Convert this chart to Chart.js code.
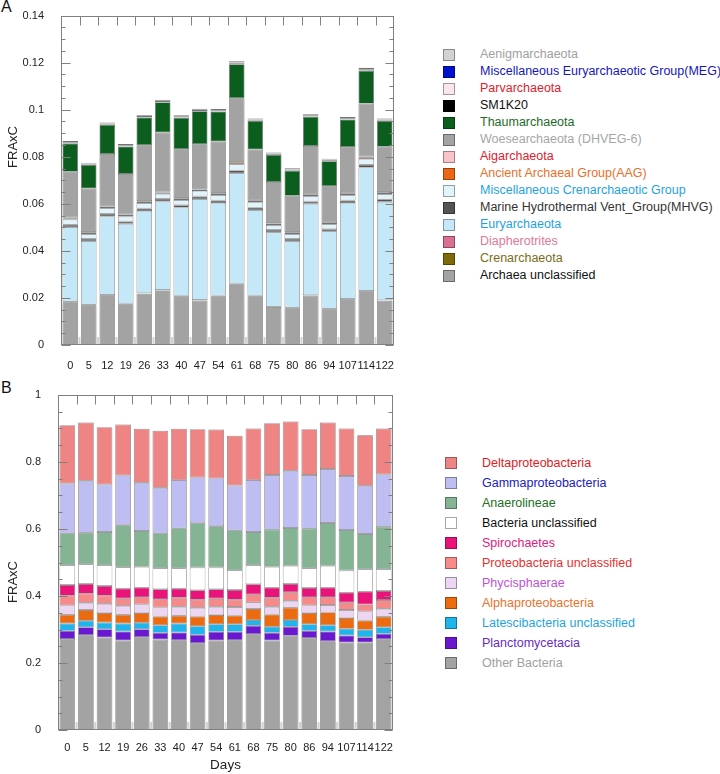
<!DOCTYPE html>
<html>
<head>
<meta charset="utf-8">
<title>FRAxC by day - Archaea and Bacteria</title>
<script src="https://cdn.jsdelivr.net/npm/chart.js@4.4.1/dist/chart.umd.min.js"></script>
<style>
  body { margin: 0; background: #fff; font-family: "Liberation Sans", Arial, sans-serif; }
  #page { position: relative; width: 720px; height: 774px; overflow: hidden; }
  canvas { position: absolute; left: 0; }
  .panel { position: absolute; left: 1px; font-size: 16px; color: #111; }
  .legend { position: absolute; margin: 0; padding: 0; list-style: none; font-size: 12.5px; white-space: nowrap; }
  .legend li { position: relative; padding-left: 37px; }
  .legend .sw { position: absolute; left: 0; width: 10px; height: 10px; border: 1px solid rgba(0,0,0,0.35); }
  #legendA li { height: 17px; line-height: 17px; }
  #legendA .sw { top: 3px; }
  #legendB li { height: 20px; line-height: 20px; }
  #legendB .sw { top: 4px; }
</style>
</head>
<body>
<div id="page">
  <div class="panel" style="top:-2px">A</div>
  <div class="panel" style="top:379px">B</div>
  <canvas id="chartA" width="420" height="372" style="top:0"></canvas>
  <canvas id="chartB" width="420" height="402" style="top:372px"></canvas>
  <ul class="legend" id="legendA" style="left:443px; top:46px"></ul>
  <ul class="legend" id="legendB" style="left:445px; top:453px"></ul>
</div>

<script>
// Sampling days (same for both panels)
const days = ['0', '5', '12', '19', '26', '33', '40', '47', '54', '61', '68', '75', '80', '86', '94', '107', '114', '122'];

// ---- Panel A: Archaea (bottom of stack first) ----
const archaeaUnclassified = [0.0182, 0.0169, 0.0211, 0.0173, 0.0218, 0.0232, 0.0207, 0.0189, 0.0207, 0.0258, 0.0207, 0.0161, 0.0156, 0.0210, 0.0152, 0.0194, 0.0228, 0.0188];
const crenarchaeota = [0.0001, 0.0001, 0.0001, 0.0001, 0.0001, 0.0001, 0.0001, 0.0001, 0.0002, 0.0001, 0.0001, 0.0001, 0.0001, 0.0001, 0.0001, 0.0001, 0.0001, 0.0001];
const diapherotrites = [0.0001, 0.0001, 0.0001, 0.0001, 0.0001, 0.0001, 0.0001, 0.0001, 0.0001, 0.0001, 0.0001, 0.0001, 0.0001, 0.0001, 0.0001, 0.0001, 0.0001, 0.0001];
const euryarchaeota = [0.0317, 0.0271, 0.0333, 0.0340, 0.0350, 0.0376, 0.0375, 0.0429, 0.0394, 0.0470, 0.0365, 0.0316, 0.0284, 0.0388, 0.0329, 0.0408, 0.0524, 0.0419];
const mhvg = [0.0010, 0.0009, 0.0011, 0.0010, 0.0010, 0.0011, 0.0010, 0.0011, 0.0010, 0.0012, 0.0010, 0.0010, 0.0009, 0.0010, 0.0009, 0.0010, 0.0012, 0.0010];
const mcg = [0.0022, 0.0020, 0.0024, 0.0021, 0.0023, 0.0022, 0.0022, 0.0024, 0.0023, 0.0026, 0.0022, 0.0021, 0.0020, 0.0022, 0.0021, 0.0022, 0.0025, 0.0022];
const aag = [0.0006, 0.0006, 0.0005, 0.0006, 0.0006, 0.0005, 0.0006, 0.0006, 0.0006, 0.0007, 0.0006, 0.0006, 0.0006, 0.0006, 0.0006, 0.0006, 0.0007, 0.0006];
const aigarchaeota = [0.0003, 0.0003, 0.0003, 0.0003, 0.0003, 0.0003, 0.0003, 0.0003, 0.0003, 0.0003, 0.0003, 0.0003, 0.0003, 0.0003, 0.0003, 0.0003, 0.0003, 0.0003];
const woesearchaeota = [0.0194, 0.0185, 0.0223, 0.0172, 0.0237, 0.0252, 0.0207, 0.0189, 0.0219, 0.0271, 0.0216, 0.0174, 0.0154, 0.0205, 0.0153, 0.0197, 0.0225, 0.0193];
const thaumarchaeota = [0.0120, 0.0100, 0.0123, 0.0116, 0.0118, 0.0128, 0.0134, 0.0140, 0.0127, 0.0144, 0.0121, 0.0114, 0.0106, 0.0124, 0.0106, 0.0116, 0.0139, 0.0109];
const sm1k20 = [0.0002, 0.0002, 0.0002, 0.0002, 0.0002, 0.0002, 0.0002, 0.0002, 0.0002, 0.0002, 0.0002, 0.0002, 0.0002, 0.0002, 0.0002, 0.0002, 0.0002, 0.0002];
const parvarchaeota = [0.0004, 0.0004, 0.0004, 0.0004, 0.0004, 0.0004, 0.0004, 0.0004, 0.0004, 0.0005, 0.0004, 0.0004, 0.0004, 0.0004, 0.0004, 0.0004, 0.0005, 0.0004];
const meg = [0.0001, 0.0001, 0.0001, 0.0001, 0.0001, 0.0001, 0.0001, 0.0001, 0.0001, 0.0001, 0.0001, 0.0001, 0.0001, 0.0001, 0.0001, 0.0001, 0.0001, 0.0001];
const aenigmarchaeota = [0.0004, 0.0003, 0.0004, 0.0004, 0.0004, 0.0004, 0.0004, 0.0004, 0.0004, 0.0005, 0.0004, 0.0004, 0.0004, 0.0004, 0.0004, 0.0004, 0.0005, 0.0004];
const yTicksA = { max: 0.14, step: 0.02, minor: 0.005 };

// ---- Panel B: Bacteria (bottom of stack first) ----
const otherBacteria = [0.272, 0.283, 0.276, 0.267, 0.277, 0.270, 0.268, 0.259, 0.267, 0.268, 0.286, 0.267, 0.281, 0.275, 0.265, 0.261, 0.261, 0.271];
const planctomycetacia = [0.024, 0.024, 0.025, 0.027, 0.024, 0.020, 0.023, 0.025, 0.026, 0.025, 0.025, 0.023, 0.027, 0.021, 0.029, 0.021, 0.016, 0.016];
const latescibacteria = [0.022, 0.019, 0.020, 0.024, 0.019, 0.023, 0.027, 0.026, 0.023, 0.023, 0.017, 0.018, 0.020, 0.020, 0.019, 0.020, 0.022, 0.020];
const alphaproteobacteria = [0.026, 0.032, 0.028, 0.026, 0.029, 0.026, 0.023, 0.029, 0.027, 0.026, 0.033, 0.037, 0.037, 0.033, 0.038, 0.032, 0.028, 0.031];
const phycisphaerae = [0.028, 0.022, 0.028, 0.027, 0.026, 0.027, 0.027, 0.026, 0.025, 0.025, 0.020, 0.023, 0.021, 0.023, 0.022, 0.024, 0.027, 0.024];
const proteoUnclassified = [0.029, 0.027, 0.024, 0.022, 0.021, 0.024, 0.027, 0.024, 0.025, 0.022, 0.024, 0.027, 0.025, 0.024, 0.023, 0.023, 0.021, 0.026];
const spirochaetes = [0.032, 0.029, 0.029, 0.029, 0.029, 0.030, 0.027, 0.028, 0.027, 0.029, 0.030, 0.030, 0.025, 0.028, 0.029, 0.029, 0.038, 0.027];
const bacteriaUnclassified = [0.059, 0.059, 0.062, 0.064, 0.062, 0.063, 0.061, 0.068, 0.065, 0.059, 0.057, 0.062, 0.054, 0.059, 0.065, 0.066, 0.067, 0.065];
const anaerolineae = [0.095, 0.094, 0.099, 0.125, 0.107, 0.104, 0.119, 0.132, 0.123, 0.119, 0.099, 0.111, 0.113, 0.118, 0.128, 0.121, 0.105, 0.127];
const gammaproteobacteria = [0.149, 0.155, 0.142, 0.149, 0.144, 0.136, 0.144, 0.137, 0.143, 0.134, 0.155, 0.163, 0.171, 0.160, 0.161, 0.161, 0.144, 0.156];
const deltaproteobacteria = [0.174, 0.174, 0.171, 0.152, 0.161, 0.170, 0.153, 0.144, 0.146, 0.148, 0.154, 0.155, 0.147, 0.137, 0.139, 0.142, 0.151, 0.137];
const yTicksB = { max: 1, step: 0.2, minor: 0.05 };

// series list: [label, data, fill colour, legend text colour]
const archaeaSeries = [
    ['Archaea unclassified', archaeaUnclassified, '#a3a3a3', '#111111'],
    ['Crenarchaeota', crenarchaeota, '#7e6a08', '#7d6c16'],
    ['Diapherotrites', diapherotrites, '#d97090', '#de7898'],
    ['Euryarchaeota', euryarchaeota, '#c4e8f8', '#1fa2e0'],
    ['Marine Hydrothermal Vent_Group(MHVG)', mhvg, '#545454', '#333333'],
    ['Miscellaneous Crenarchaeotic Group', mcg, '#e2f4fb', '#1fa2e0'],
    ['Ancient Archaeal Group(AAG)', aag, '#ec6614', '#e8702a'],
    ['Aigarchaeota', aigarchaeota, '#f8c4c8', '#e0202e'],
    ['Woesearchaeota (DHVEG-6)', woesearchaeota, '#a3a3a3', '#a6a6a6'],
    ['Thaumarchaeota', thaumarchaeota, '#0c5e1e', '#1e6b28'],
    ['SM1K20', sm1k20, '#000000', '#111111'],
    ['Parvarchaeota', parvarchaeota, '#fbe6ec', '#e0202e'],
    ['Miscellaneous Euryarchaeotic Group(MEG)', meg, '#0010d0', '#1515c0'],
    ['Aenigmarchaeota', aenigmarchaeota, '#d2d2d2', '#a0a0a0']
];

const bacteriaSeries = [
    ['Other Bacteria', otherBacteria, '#a3a3a3', '#a0a0a0'],
    ['Planctomycetacia', planctomycetacia, '#6a18d0', '#6a2ac0'],
    ['Latescibacteria unclassified', latescibacteria, '#20b4ec', '#22a4e0'],
    ['Alphaproteobacteria', alphaproteobacteria, '#ec6a10', '#e8722e'],
    ['Phycisphaerae', phycisphaerae, '#ecd6f2', '#c052d2'],
    ['Proteobacteria unclassified', proteoUnclassified, '#f68a8a', '#e8302e'],
    ['Spirochaetes', spirochaetes, '#e8147a', '#e0207a'],
    ['Bacteria unclassified', bacteriaUnclassified, '#ffffff', '#111111'],
    ['Anaerolineae', anaerolineae, '#84b494', '#207020'],
    ['Gammaproteobacteria', gammaproteobacteria, '#bebef2', '#2020c0'],
    ['Deltaproteobacteria', deltaproteobacteria, '#ef8484', '#e0201e']
];

const FONT = '"Liberation Sans", Arial, sans-serif';

/**
 * Frame, inward tick marks and the rotated y title
 */
const framePlugin = {
    id: 'frame',
    beforeDatasetsDraw(chart, args, opts) {
        const { ctx, chartArea: a, scales: { x } } = chart;
        ctx.save();
        ctx.strokeStyle = '#d2d2d2';
        ctx.lineWidth = 2;
        for (let i = 1; i < chart.data.labels.length; i++) {
            const px = (x.getPixelForValue(i - 1) + x.getPixelForValue(i)) / 2;
            ctx.beginPath();
            ctx.moveTo(px, a.bottom);
            ctx.lineTo(px, a.bottom - 8);
            ctx.stroke();
        }
        ctx.restore();
    },
    afterDraw(chart, args, opts) {
        const { ctx, chartArea: a, scales: { x, y } } = chart;
        const L = Math.round(a.left) + 0.5, R = Math.round(a.right) - 0.5;
        const T = Math.round(a.top) + 0.5, B = Math.round(a.bottom) - 0.5;
        ctx.save();
        ctx.strokeStyle = '#808080';
        ctx.lineWidth = 1;
        ctx.strokeRect(L, T, R - L, B - T);

        // y ticks on both sides, pointing inward
        const ticks = opts.ticks;
        const n = Math.round(ticks.max / ticks.minor);
        const every = Math.round(ticks.step / ticks.minor);
        for (let k = 0; k <= n; k++) {
            const py = Math.round(y.getPixelForValue(k * ticks.minor)) + 0.5;
            const major = k % every === 0;
            ctx.beginPath();
            ctx.moveTo(L, py);
            ctx.lineTo(L + (major ? 9 : 4), py);
            ctx.moveTo(R, py);
            ctx.lineTo(R - (major ? 8 : 4), py);
            ctx.stroke();
        }

        // top ticks at category boundaries
        for (let i = 1; i < chart.data.labels.length; i++) {
            const px = Math.round((x.getPixelForValue(i - 1) + x.getPixelForValue(i)) / 2) + 0.5;
            ctx.beginPath();
            ctx.moveTo(px, T);
            ctx.lineTo(px, T + 9);
            ctx.stroke();
        }

        // y title
        ctx.translate(opts.titleX, opts.titleY);
        ctx.rotate(-Math.PI / 2);
        ctx.fillStyle = '#222';
        ctx.font = '13px ' + FONT;
        ctx.textAlign = 'center';
        ctx.textBaseline = 'middle';
        ctx.fillText(opts.title, 0, 0);
        ctx.restore();
    }
};

/**
 * Build a stacked bar chart for one panel
 */
function buildChart(canvasId, series, yTicks, geom) {
    const datasets = series.map(([label, data, color]) => ({
        label: label,
        data: data,
        backgroundColor: color,
        borderColor: 'rgba(70,70,70,0.75)',
        borderWidth: 0.7,
        borderSkipped: false,
        categoryPercentage: 1,
        barPercentage: 0.84
    }));

    return new Chart(document.getElementById(canvasId), {
        type: 'bar',
        data: { labels: days, datasets: datasets },
        plugins: [framePlugin],
        options: {
            responsive: false,
            animation: false,
            devicePixelRatio: 1,
            layout: { padding: { top: geom.top, right: geom.right, left: 0, bottom: 0 } },
            plugins: {
                legend: { display: false },
                tooltip: { enabled: false },
                frame: { ticks: yTicks, title: 'FRAxC', titleX: 13, titleY: geom.titleY }
            },
            scales: {
                x: {
                    stacked: true,
                    grid: { display: false },
                    border: { display: false },
                    ticks: {
                        autoSkip: false, maxRotation: 0, minRotation: 0,
                        padding: geom.xPad,
                        color: '#222',
                        font: { family: FONT, size: 11 }
                    },
                    title: {
                        display: !!geom.xTitle,
                        text: geom.xTitle || '',
                        color: '#222',
                        font: { family: FONT, size: 13.5 },
                        padding: { top: 0, bottom: 1 }
                    },
                    afterFit: (scale) => { scale.height = geom.xHeight; }
                },
                y: {
                    stacked: true,
                    min: 0,
                    max: yTicks.max,
                    grid: { display: false },
                    border: { display: false },
                    ticks: {
                        stepSize: yTicks.step,
                        padding: 9,
                        color: '#222',
                        font: { family: FONT, size: 11 },
                        callback: (v) => String(Math.round(v * 100) / 100)
                    },
                    afterFit: (scale) => { scale.width = geom.yWidth; }
                }
            }
        }
    });
}

/**
 * HTML legend, top of stack first
 */
function buildLegend(listId, series) {
    const ul = document.getElementById(listId);
    series.slice().reverse().forEach(([label, , color, textColor]) => {
        const li = document.createElement('li');
        li.style.color = textColor;
        const sw = document.createElement('span');
        sw.className = 'sw';
        sw.style.background = color;
        li.appendChild(sw);
        li.appendChild(document.createTextNode(label));
        ul.appendChild(li);
    });
}

buildChart('chartA', archaeaSeries, yTicksA,
    { top: 11, right: 26, yWidth: 61, xHeight: 27, xPad: 6, titleY: 147 });
buildChart('chartB', bacteriaSeries, yTicksB,
    { top: 23, right: 27, yWidth: 58, xHeight: 44, xPad: 3, titleY: 210, xTitle: 'Days' });
buildLegend('legendA', archaeaSeries);
buildLegend('legendB', bacteriaSeries);
</script>
</body>
</html>
